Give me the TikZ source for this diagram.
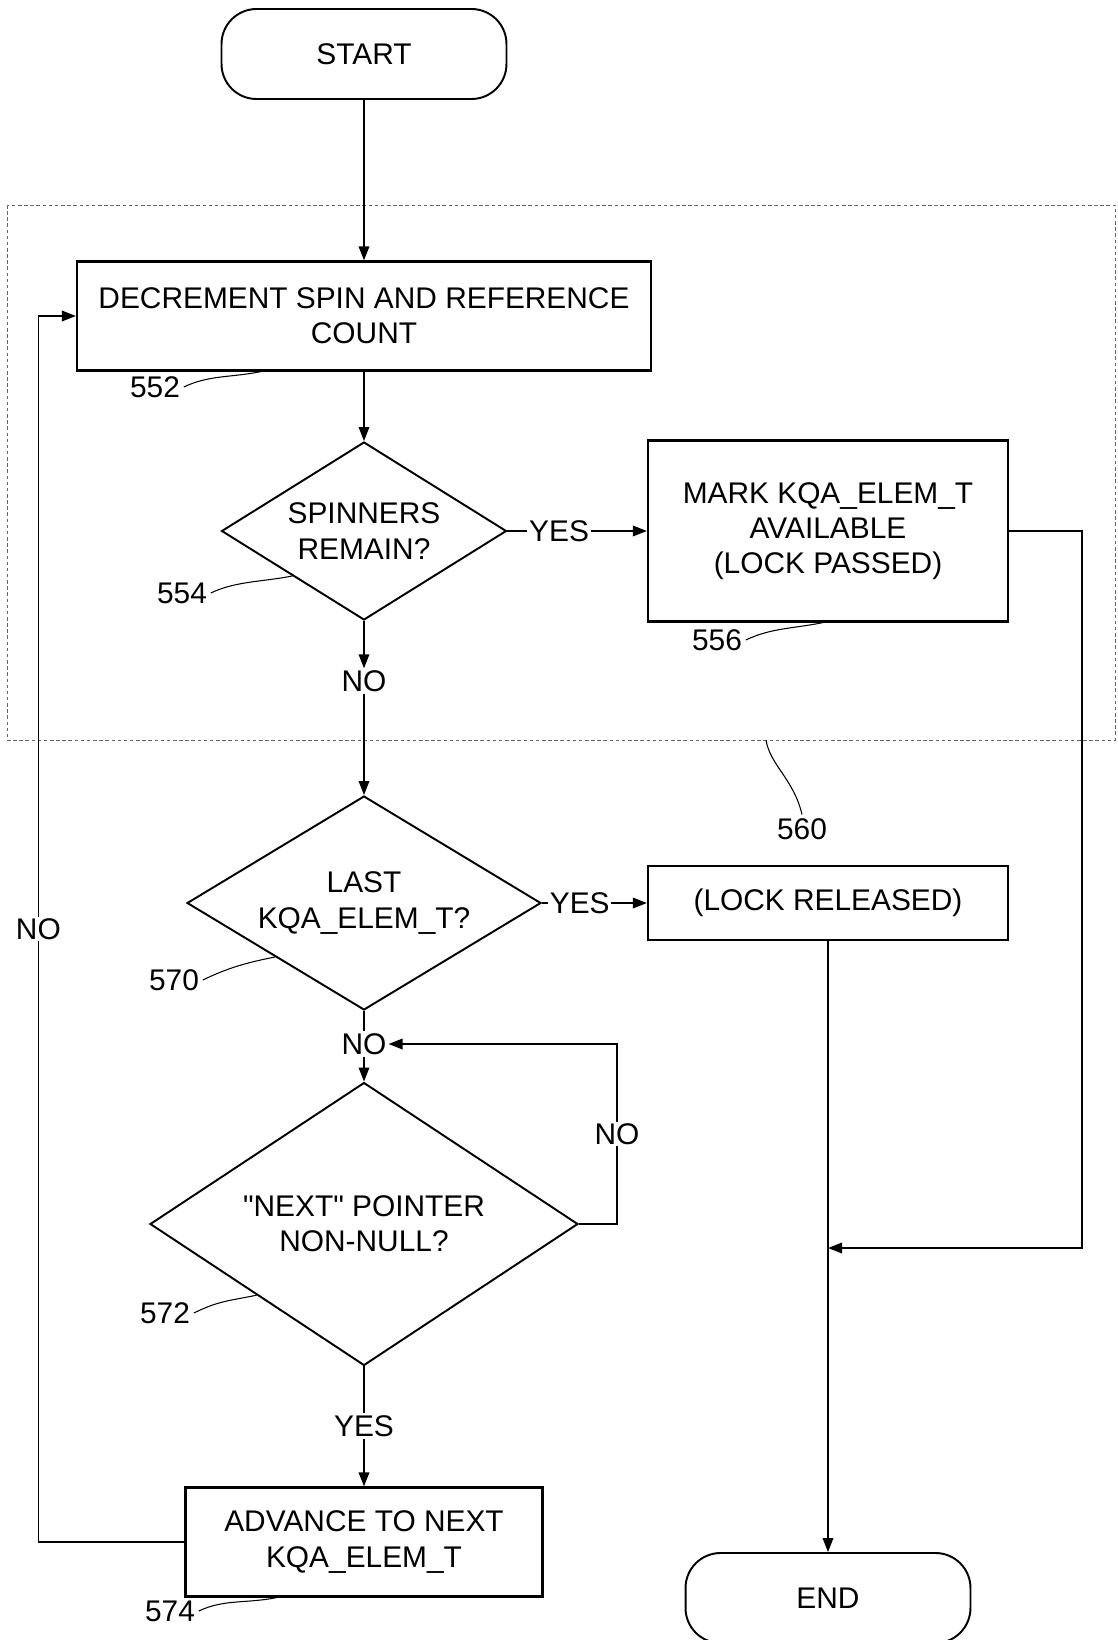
\documentclass[tikz,border=0pt]{standalone}
\usepackage{fontspec}
\setmainfont{Liberation Sans}[Ligatures=TeXOff]
\usetikzlibrary{
	arrows.meta,
	positioning,
	shapes.geometric,
	calc
}

\begin{document}
\begin{tikzpicture}[
			x=0.02cm, y=-0.02cm,
			font=\fontsize{17}{20}\selectfont,
			term/.style={draw, line width=1.1pt, rounded corners=0.7cm, minimum width=5.7cm, minimum height=1.8cm},
			box/.style={draw, line width=1.3pt, align=center, inner sep=2pt},
			ask/.style={draw, diamond, line width=1.1pt, align=center, inner sep=0pt},
			lab/.style={fill=white, inner sep=1pt},
			num/.style={inner sep=2pt},
			lead/.style={line width=0.6pt},
			>={Triangle[length=8pt, width=6pt]},
			fl/.style={->, line width=1pt}
		]
		\useasboundingbox (0,0) rectangle (1117,1640);

		% group 560
		\draw[dash pattern=on 2pt off 1.5pt, line width=0.5pt, black!60] (7,205) rectangle (1115,740);
		\coordinate (g560) at (766,740);

		\node[term] (start) at (364,54) {START};
		\node[box, minimum width=11.48cm, minimum height=2.18cm] (decr) at (364,316) {DECREMENT SPIN AND REFERENCE\\COUNT};
		\node[ask, aspect=1.6, minimum width=5.7cm, minimum height=3.56cm] (spin) at (364,531) {SPINNERS\\REMAIN?};
		\node[box, minimum width=7.2cm, minimum height=3.62cm] (pass) at (828,531) {MARK KQA\_ELEM\_T\\AVAILABLE\\(LOCK PASSED)};
		\node[lab] (no1) at (364,681) {NO};
		\node[ask, aspect=1.65, minimum width=7.08cm, minimum height=4.28cm] (last) at (364,903) {LAST\\KQA\_ELEM\_T?};
		\node[box, minimum width=7.2cm, minimum height=1.48cm] (rel) at (828,903) {(LOCK RELEASED)};
		\node[lab] (no2) at (364,1044) {NO};
		\node[ask, aspect=1.51, minimum width=8.56cm, minimum height=5.66cm] (nxt) at (364,1224) {"NEXT" POINTER\\NON-NULL?};
		\node[lab] (yes3) at (364,1426) {YES};
		\node[box, minimum width=7.14cm, minimum height=2.18cm] (adv) at (364,1542) {ADVANCE TO NEXT\\KQA\_ELEM\_T};
		\node[term] (stop) at (828,1598) {END};
		\coordinate (mrg) at (828,1248);

		% reference numbers
		\node[num] (l552) at (155,387) {552};
		\node[num] (l554) at (182,593) {554};
		\node[num] (l556) at (717,640) {556};
		\node[num] (l560) at (802,829) {560};
		\node[num] (l570) at (174,980) {570};
		\node[num] (l572) at (165,1313) {572};
		\node[num] (l574) at (170,1611) {574};

		\draw[fl] (start) -- (decr);
		\draw[fl] (decr) -- (spin);
		\draw[fl] (spin.east) -- node[lab, pos=0.37] {YES} (pass.west);
		\draw[fl] (spin.south) -- (no1);
		\draw[fl] (no1) -- (last.north);
		\draw[fl] (last.east) -- node[lab, pos=0.36] {YES} (rel.west);
		\draw[line width=1pt] (last.south) -- (no2);
		\draw[fl] (no2) -- (nxt.north);
		\draw[fl] (nxt.east) -- +(38,0) |- node[lab, pos=0.25] {NO} (no2.east);
		\draw[line width=1pt] (nxt.south) -- (yes3);
		\draw[fl] (yes3) -- (adv.north);
		\draw[fl] (adv.west) -- +(-146,0) |- node[lab, pos=0.25] {NO} (decr.west);
		\draw[fl] (pass.east) -- +(73,0) |- (mrg);
		\draw[fl] (rel.south) -- (stop.north);

		% leaders
		\draw[lead] (l552.east) .. controls +(25,-12) and +(-30,6) .. ($(decr.south west)+(185,0)$);
		\draw[lead] (l554.east) .. controls +(25,-12) and +(-30,6) .. (spin.south west);
		\draw[lead] (l556.east) .. controls +(25,-12) and +(-30,6) .. ($(pass.south west)+(176,0)$);
		\draw[lead] (l560.north) .. controls +(-8,-35) and +(4,25) .. (g560);
		\draw[lead] (l570.east) .. controls +(25,-12) and +(-30,6) .. (last.south west);
		\draw[lead] (l572.east) .. controls +(25,-12) and +(-30,6) .. (nxt.south west);
		\draw[lead] (l574.east) .. controls +(25,-12) and +(-30,6) .. ($(adv.south west)+(92,0)$);
	\end{tikzpicture}
\end{document}
